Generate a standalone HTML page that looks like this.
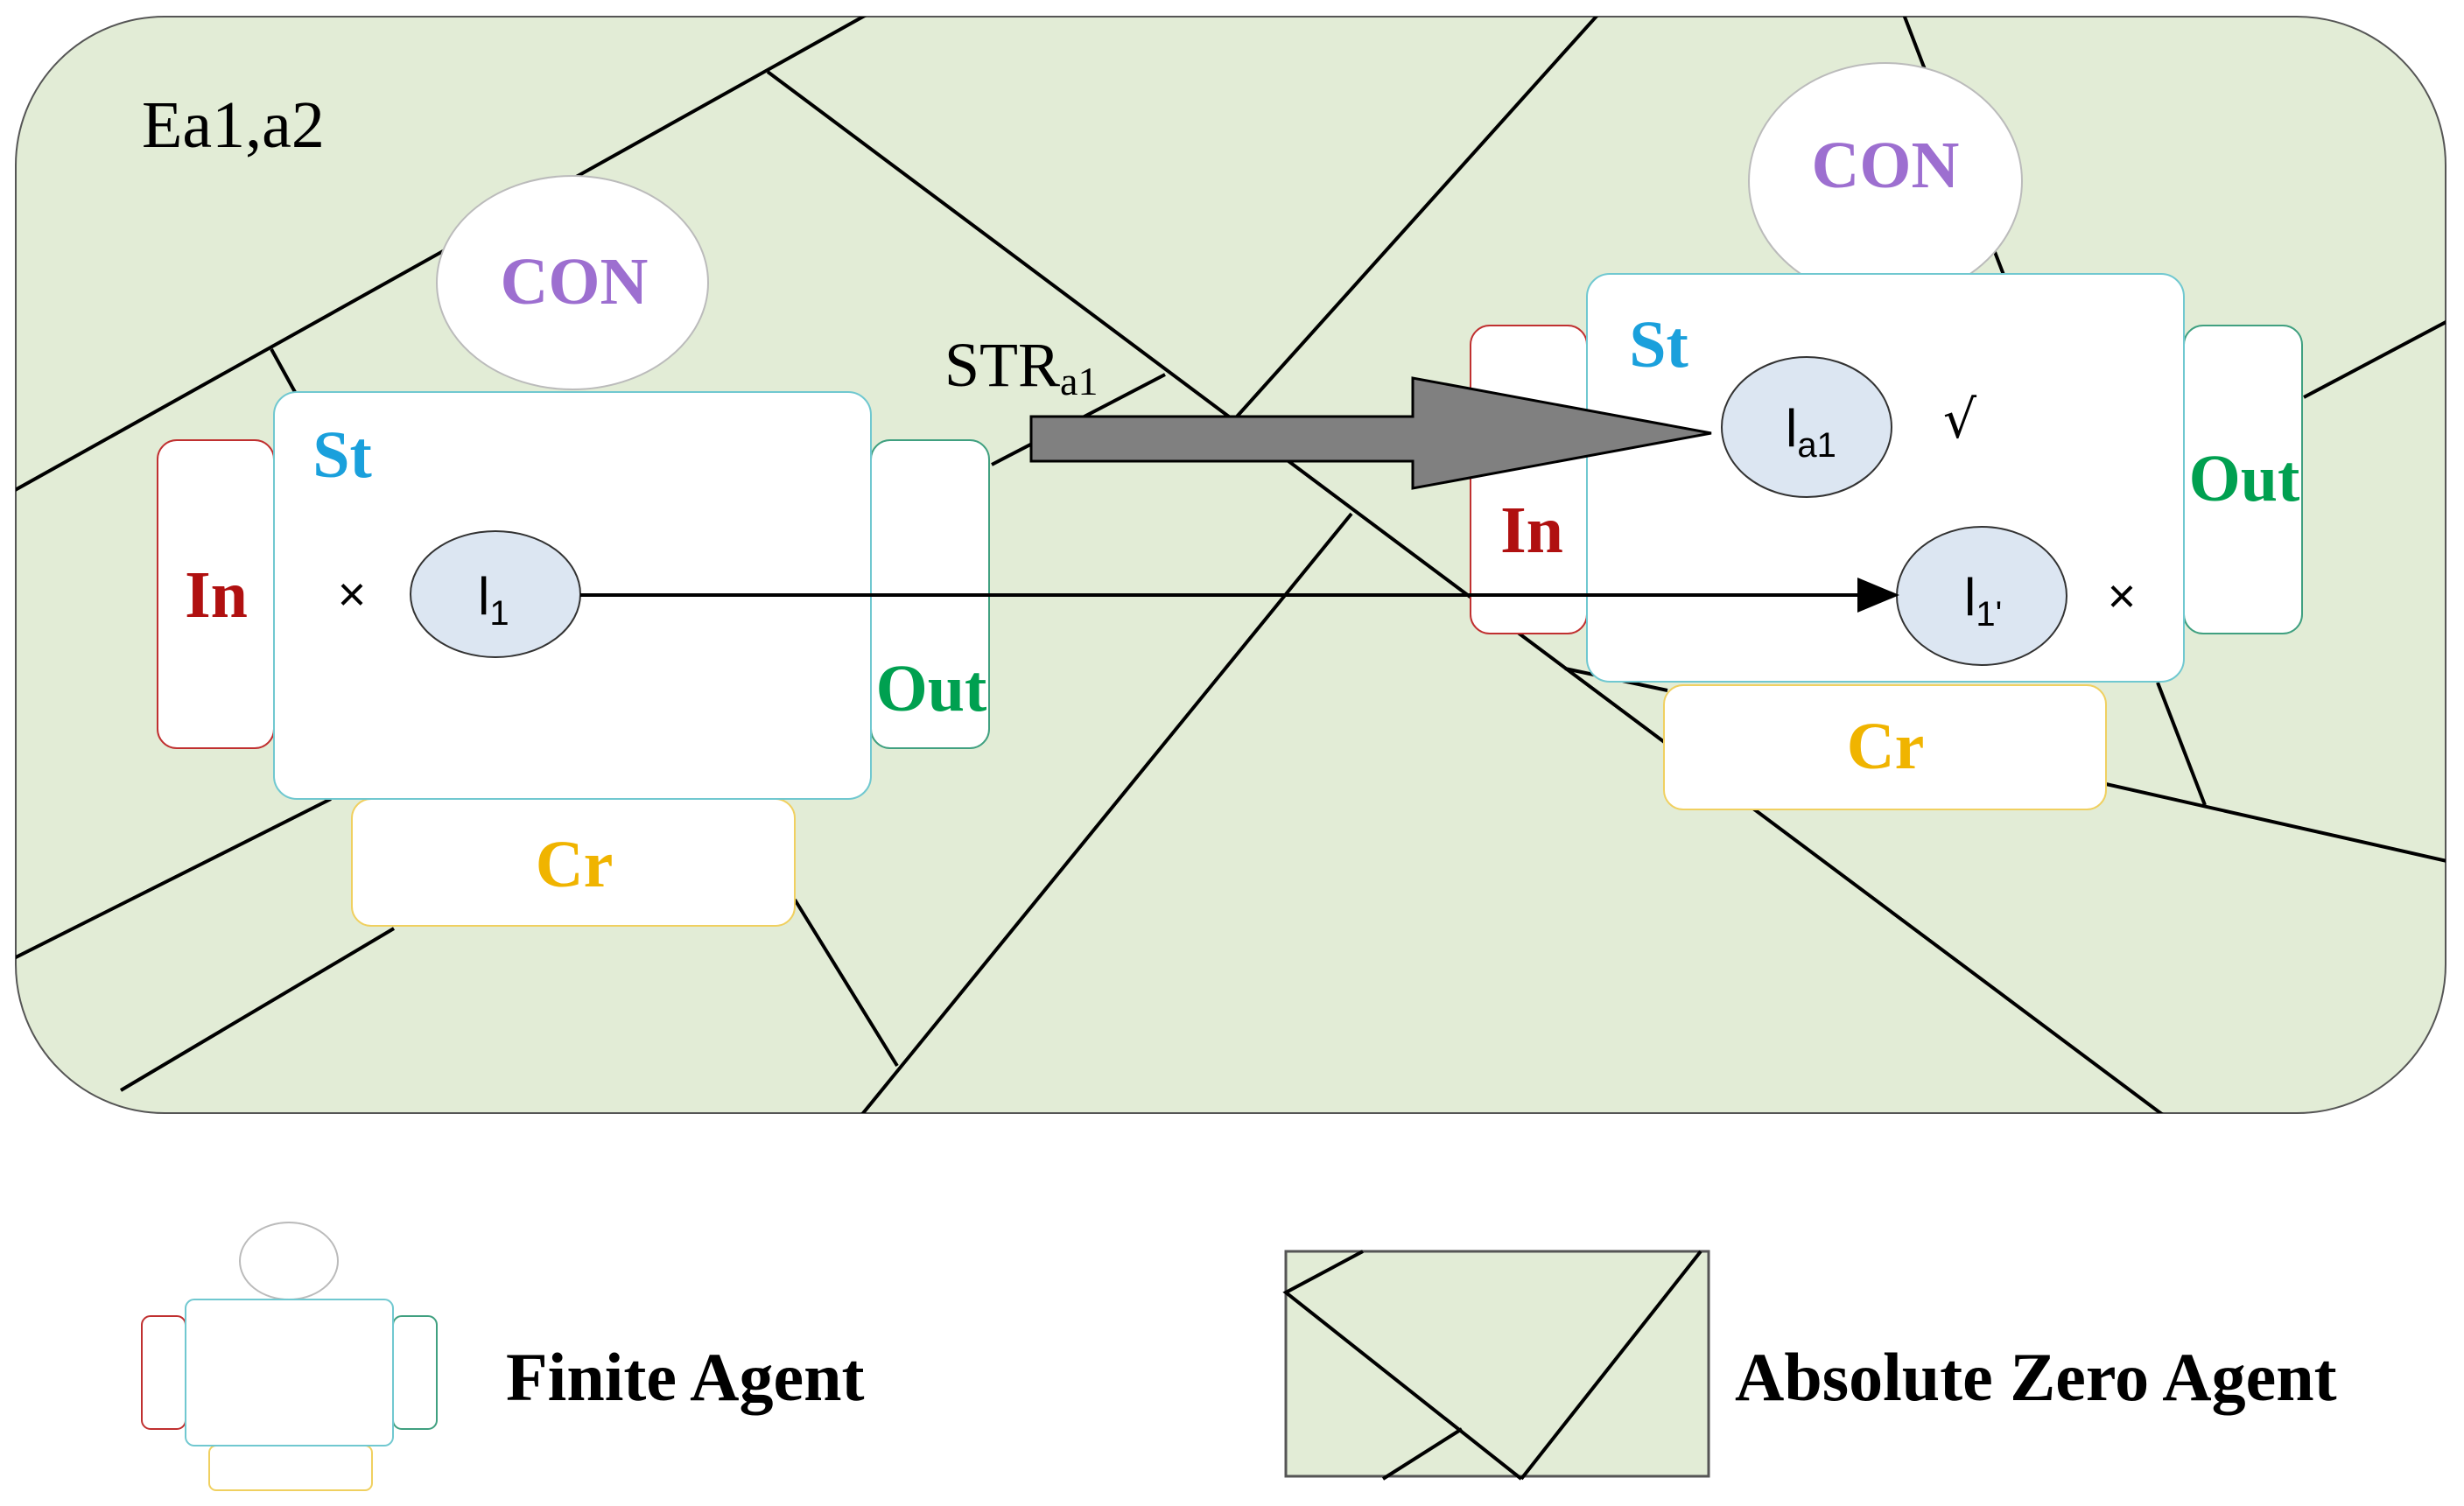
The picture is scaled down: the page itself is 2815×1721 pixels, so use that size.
<!DOCTYPE html>
<html><head><style>html,body{margin:0;padding:0;background:#fff;}svg{display:block;}</style></head>
<body>
<svg width="2815" height="1721" viewBox="0 0 2815 1721" xmlns="http://www.w3.org/2000/svg" font-family="Liberation Serif, serif">
<defs>
<clipPath id="c"><rect x="18" y="19" width="2776" height="1253" rx="170"/></clipPath>
</defs>
<rect x="18" y="19" width="2776" height="1253" rx="170" fill="#e2ecd6" stroke="#555" stroke-width="2"/>
<g clip-path="url(#c)" stroke="#000" stroke-width="4" fill="none">
<line x1="10" y1="564" x2="995" y2="14"/>
<line x1="310" y1="399" x2="337" y2="448"/>
<line x1="877" y1="82" x2="2475" y2="1277"/>
<line x1="1133" y1="531" x2="1331" y2="428"/>
<line x1="10" y1="1098" x2="378" y2="913"/>
<line x1="138" y1="1246" x2="450" y2="1061"/>
<line x1="908" y1="1028" x2="1025" y2="1218"/>
<line x1="982" y1="1277" x2="1544" y2="587"/>
<line x1="1828" y1="14" x2="1405" y2="485"/>
<line x1="2174" y1="14" x2="2289" y2="314"/>
<line x1="2632" y1="454" x2="2800" y2="365"/>
<line x1="2465" y1="780" x2="2519" y2="920"/>
<line x1="2406" y1="896" x2="2800" y2="985"/>
<line x1="1788" y1="764" x2="1905" y2="789"/>
</g>
<!-- left agent -->
<g stroke-width="2">
<ellipse cx="654" cy="323" rx="155" ry="122" fill="#fff" stroke="#bbb"/>
<rect x="180" y="503" width="133" height="352" rx="22" fill="#fff" stroke="#c03030"/>
<rect x="995" y="503" width="135" height="352" rx="22" fill="#fff" stroke="#40a080"/>
<rect x="402" y="913" width="506" height="145" rx="22" fill="#fff" stroke="#f0d060"/>
<rect x="313" y="448" width="682" height="465" rx="26" fill="#fff" stroke="#70c8d0"/>
<ellipse cx="566" cy="679" rx="97" ry="72" fill="#dce6f2" stroke="#333"/>
</g>
<g font-weight="bold" text-anchor="middle" font-size="76">
<text x="656" y="321" dy="26" fill="#9d6fd0">CON</text>
<text x="391" y="519" dy="26" fill="#1aa0dc">St</text>
<text x="247" y="679" dy="26" fill="#b01010">In</text>
<text x="1064" y="786" dy="26" fill="#00a050">Out</text>
<text x="656" y="987" dy="26" fill="#f0b400">Cr</text>
</g>
<text x="402" y="698" font-size="56" text-anchor="middle" font-family="Liberation Sans, sans-serif">×</text>
<text x="546" y="702" font-size="60" font-family="Liberation Sans, sans-serif">l<tspan font-size="40" dy="12">1</tspan></text>
<text x="162" y="168" font-size="76">Ea1,a2</text>
<text x="1079" y="441" font-size="72">STR<tspan font-size="46" dy="10">a1</tspan></text>
<!-- right agent -->
<g stroke-width="2">
<ellipse cx="2154" cy="207" rx="156" ry="135" fill="#fff" stroke="#bbb"/>
<rect x="1680" y="372" width="133" height="352" rx="22" fill="#fff" stroke="#c03030"/>
<rect x="2495" y="372" width="135" height="352" rx="22" fill="#fff" stroke="#40a080"/>
<rect x="1901" y="783" width="505" height="142" rx="22" fill="#fff" stroke="#f0d060"/>
</g>
<rect x="1813" y="313" width="682" height="466" rx="26" fill="#fff" stroke="#70c8d0" stroke-width="2"/>
<g stroke-width="2">
<ellipse cx="2064" cy="488" rx="97" ry="80" fill="#dce6f2" stroke="#333"/>
<ellipse cx="2264" cy="681" rx="97" ry="79" fill="#dce6f2" stroke="#333"/>
</g>
<!-- arrows -->
<polygon points="1178,476 1614,476 1614,432 1955,495 1614,558 1614,527 1178,527" fill="#808080" stroke="#000" stroke-width="3"/>
<line x1="663" y1="680" x2="2125" y2="680" stroke="#000" stroke-width="4"/>
<polygon points="2122,660 2170,680 2122,700" fill="#000"/>
<g font-weight="bold" text-anchor="middle" font-size="76">
<text x="1895" y="393" dy="26" fill="#1aa0dc">St</text>
<text x="1750" y="605" dy="26" fill="#b01010">In</text>
<text x="2564" y="546" dy="26" fill="#00a050">Out</text>
<text x="2154" y="852" dy="26" fill="#f0b400">Cr</text>
<text x="2154" y="188" dy="26" fill="#9d6fd0">CON</text>
</g>
<text x="2040" y="510" font-size="60" font-family="Liberation Sans, sans-serif">l<tspan font-size="40" dy="12">a1</tspan></text>
<text x="2244" y="703" font-size="60" font-family="Liberation Sans, sans-serif">l<tspan font-size="40" dy="12">1'</tspan></text>
<text x="2239" y="500" font-size="60" text-anchor="middle" font-family="DejaVu Sans, sans-serif">√</text>
<text x="2424" y="700" font-size="56" text-anchor="middle" font-family="Liberation Sans, sans-serif">×</text>
<!-- legend -->
<g stroke-width="2" fill="#fff">
<ellipse cx="330" cy="1441" rx="56" ry="44" stroke="#bbb"/>
<rect x="162" y="1504" width="50" height="129" rx="10" stroke="#c03030"/>
<rect x="449" y="1504" width="50" height="129" rx="10" stroke="#40a080"/>
<rect x="239" y="1652" width="186" height="51" rx="8" stroke="#f0d060"/>
<rect x="212" y="1485" width="237" height="167" rx="10" stroke="#70c8d0"/>
</g>
<text x="578" y="1600" font-size="78" font-weight="bold">Finite Agent</text>
<rect x="1469" y="1430" width="483" height="257" fill="#e2ecd6" stroke="#555" stroke-width="3"/>
<g stroke="#000" stroke-width="4" fill="none">
<polyline points="1557,1430 1469,1477 1738,1690"/>
<line x1="1943" y1="1430" x2="1738" y2="1690"/>
<line x1="1670" y1="1633" x2="1580" y2="1690"/>
</g>
<text x="1982" y="1600" font-size="78" font-weight="bold">Absolute Zero Agent</text>
</svg>
</body></html>
